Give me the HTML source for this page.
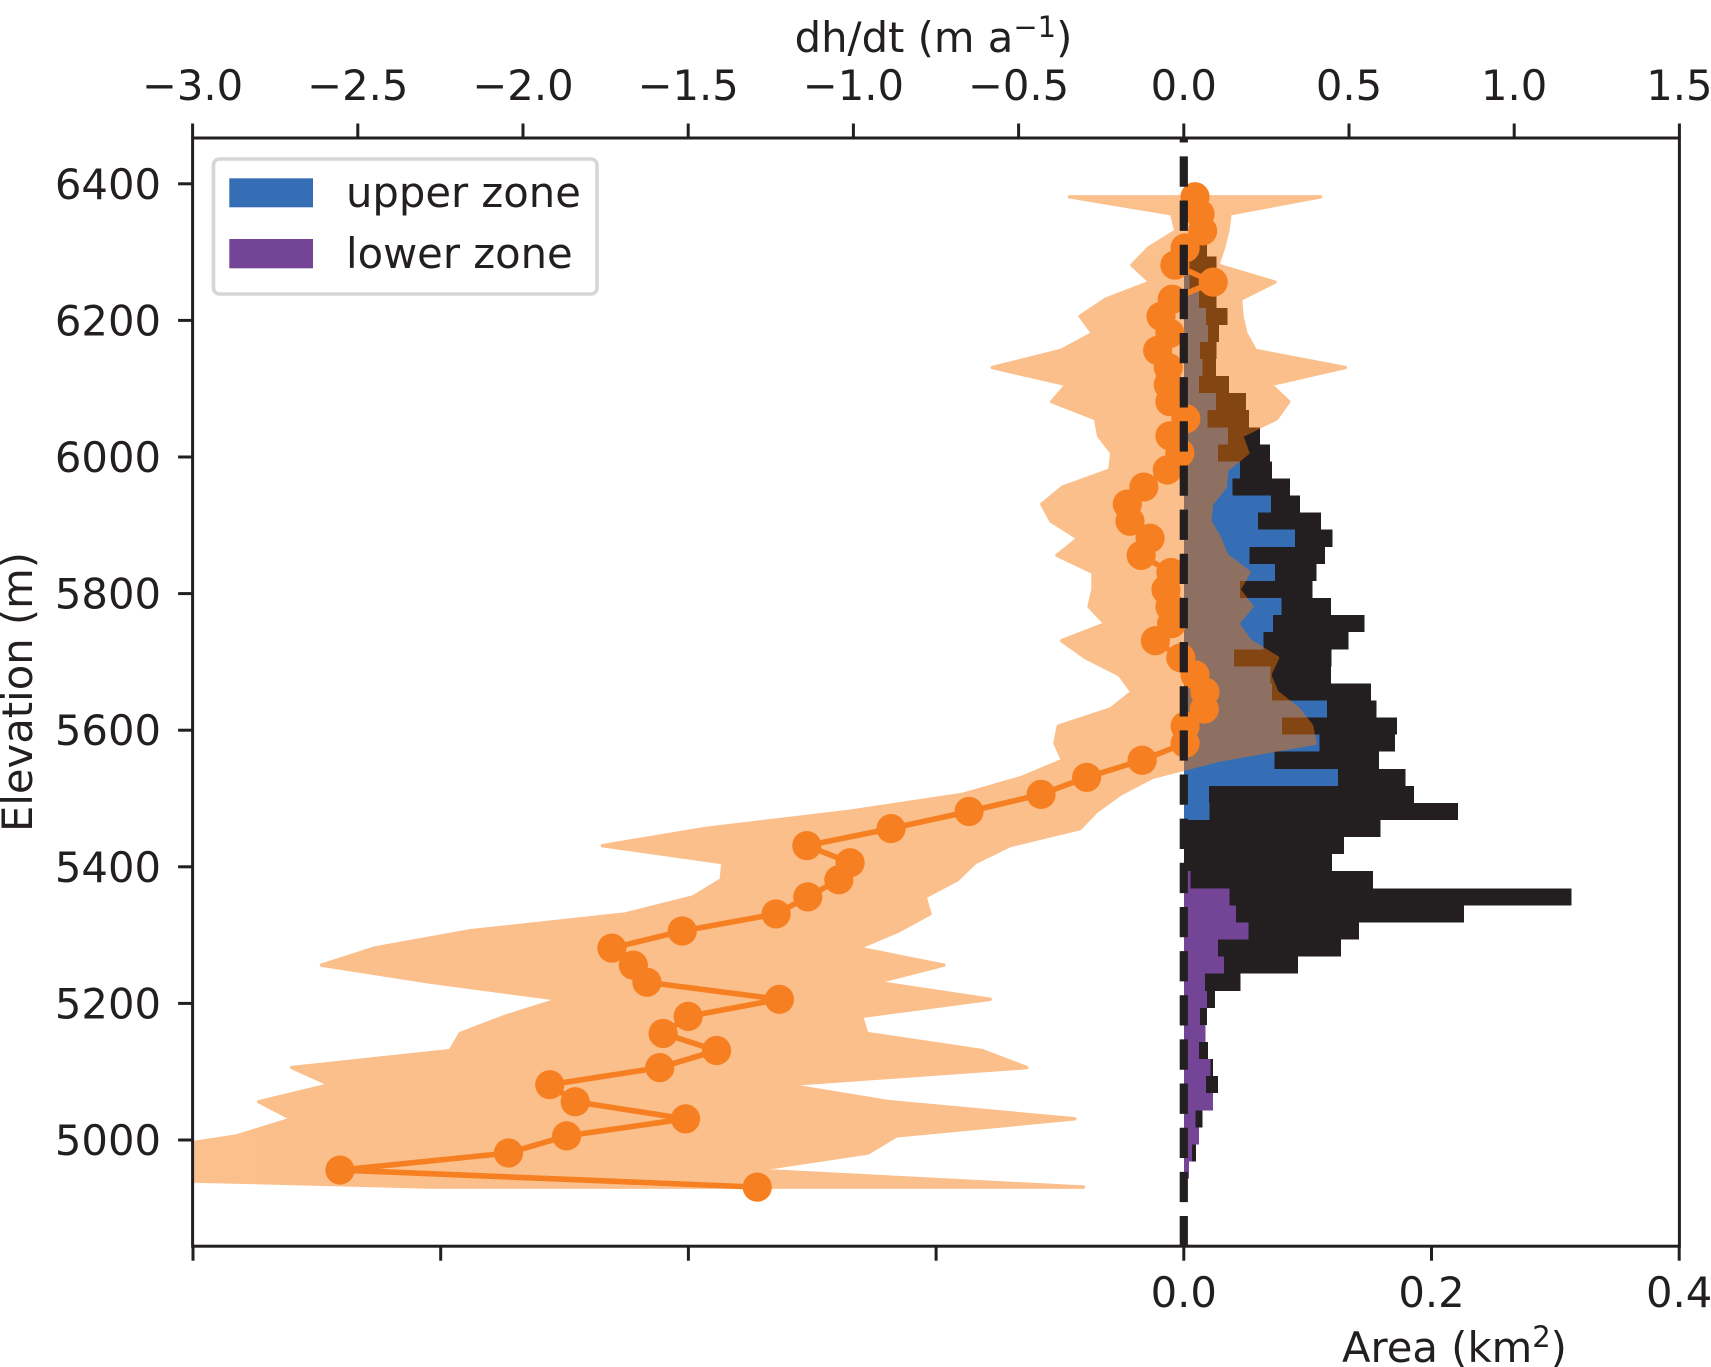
<!DOCTYPE html>
<html lang="en">
<head>
<meta charset="utf-8">
<title>Elevation profile of dh/dt and area</title>
<style>
html,body{margin:0;padding:0;background:#fff;width:1711px;height:1367px;overflow:hidden}
svg{display:block}
text{font-family:"DejaVu Sans","Liberation Sans",sans-serif;fill:#231f20;font-size:41.7px}
</style>
</head>
<body>
<svg id="chart" xmlns="http://www.w3.org/2000/svg" width="1711" height="1367" viewBox="0 0 1711 1367">
  <defs>
    <clipPath id="plot-clip"><rect x="192.6" y="138" width="1486.8" height="1108.2"/></clipPath>
  </defs>
  <rect x="0" y="0" width="1711" height="1367" fill="#ffffff"/>
  <g id="bars" clip-path="url(#plot-clip)"></g>
  <g id="band" clip-path="url(#plot-clip)"></g>
  <g id="series" clip-path="url(#plot-clip)"></g>
  <line id="zero" stroke="#231f20" stroke-width="8.2" stroke-dasharray="30.3 13.85"/>
  <g id="axes"></g>
  <g>
    <rect x="213.5" y="159" width="383.5" height="135" rx="6" ry="6" fill="#ffffff" stroke="#d6d6d6" stroke-width="3.6"/>
    <rect x="229.3" y="178.3" width="83.7" height="29" fill="#366eb5"/>
    <text x="346" y="207">upper zone</text>
    <rect x="229.3" y="239" width="83.7" height="29.3" fill="#744497"/>
    <text x="346" y="268">lower zone</text>
  </g>
  <text x="933.5" y="52" text-anchor="middle">dh/dt (m a<tspan dy="-15" font-size="29">−1</tspan><tspan dy="15">)</tspan></text>
  <text x="1342" y="1362">Area (km<tspan dy="-15" font-size="29">2</tspan><tspan dy="15">)</tspan></text>
  <text transform="translate(32,692) rotate(-90)" text-anchor="middle">Elevation (m)</text>
</svg>
<script>
// Elevation bins (m), low to high
const elevations = [4931,4956,4981,5006,5031,5056,5081,5106,5131,5156,5181,5206,5231,5256,5281,5306,5331,5356,5381,5406,5431,5456,5481,5506,5531,5556,5581,5606,5631,5656,5681,5706,5731,5756,5781,5806,5831,5856,5881,5906,5931,5956,5981,6006,6031,6056,6081,6106,6131,6156,6181,6206,6231,6256,6281,6306,6331,6356,6381];
const binHeight = 25;
// Area per bin (km2)
const areaTotal = [0,.0043,.0097,.0124,.0153,.0237,.0277,.0234,.0194,.0175,.0188,.0253,.0458,.0923,.1268,.1413,.2261,.3131,.1529,.1195,.1292,.1588,.2215,.1857,.1789,.1577,.1704,.1723,.1556,.1513,.1187,.1192,.133,.1459,.119,.1039,.1071,.1139,.12,.1106,.0937,.0859,.0713,.0697,.0616,.0528,.0501,.0366,.0258,.0266,.0285,.0353,.0266,.0124,.0264,.0186,0,0,0];
const areaUpper = [0,0,0,0,0,0,0,0,0,0,0,0,0,0,0,0,0,0,0,0,0,0,.0207,.0202,.1246,.0732,.1096,.0794,.1155,.0713,.07,.0406,.0643,.0719,.0789,.0452,.0738,.053,.0896,.06,.0705,.0393,.0452,.0277,.0358,.0191,.0258,.0124,.0151,.0129,.0196,.0178,.0124,.0048,.004,0,0,0,0];
const areaLower = [0,.0043,.0065,.0124,.0094,.0237,.0178,.0215,.0121,.0175,.0129,.0186,.0172,.0323,.0277,.0522,.042,.0371,.0054,0,0,0,0,0,0,0,0,0,0,0,0,0,0,0,0,0,0,0,0,0,0,0,0,0,0,0,0,0,0,0,0,0,0,0,0,0,0,0,0];
// dh/dt per bin (m/a)
const dhdtMean = [-1.291,-2.554,-2.044,-1.868,-1.508,-1.842,-1.919,-1.586,-1.414,-1.576,-1.5,-1.224,-1.625,-1.666,-1.731,-1.518,-1.234,-1.138,-1.044,-1.01,-1.141,-.886,-.65,-.432,-.294,-.126,.004,.004,.062,.064,.034,-.009,-.086,-.037,-.042,-.054,-.039,-.129,-.102,-.163,-.171,-.121,-.05,-.012,-.042,.006,-.042,-.047,-.047,-.079,-.042,-.069,-.035,.089,-.027,.004,.057,.049,.034];
const dhdtLow = [-2.275,-4.3,-3.2,-2.867,-2.7,-2.8,-2.585,-2.7,-2.22,-2.19,-2.055,-1.89,-2.28,-2.61,-2.45,-2.165,-1.69,-1.485,-1.4,-1.395,-1.76,-1.45,-1.015,-.67,-.49,-.367,-.39,-.38,-.222,-.157,-.195,-.297,-.37,-.238,-.287,-.275,-.275,-.384,-.32,-.402,-.43,-.367,-.224,-.218,-.258,-.267,-.4,-.355,-.58,-.372,-.276,-.314,-.237,-.102,-.157,-.107,-.024,-.037,-.346];
const dhdtHigh = [-.304,-1.3,-.955,-.87,-.33,-.89,-1.205,-.475,-.61,-.96,-.975,-.586,-.93,-.726,-.985,-.864,-.768,-.783,-.685,-.632,-.526,-.314,-.264,-.193,-.095,.105,.397,.387,.347,.281,.26,.284,.2,.163,.206,.167,.198,.13,.109,.079,.084,.125,.13,.194,.175,.281,.318,.263,.489,.217,.188,.176,.172,.276,.103,.12,.133,.14,.414];
// Axis ticks and labels
const dhdtTicks = [-3,-2.5,-2,-1.5,-1,-0.5,0,0.5,1,1.5];
const dhdtTickLabels = ["−3.0","−2.5","−2.0","−1.5","−1.0","−0.5","0.0","0.5","1.0","1.5"];
const areaTicks = [-0.8,-0.6,-0.4,-0.2,0,0.2,0.4];
const areaTickLabels = ["","","","","0.0","0.2","0.4"];
const elevationTicks = [5000,5200,5400,5600,5800,6000,6200,6400];
const elevationTickLabels = ["5000","5200","5400","5600","5800","6000","6200","6400"];

const NS = "http://www.w3.org/2000/svg";
const plot = {left:192.6, right:1679.4, top:138, bottom:1246.2};
function xDhdt(v){ return 1183.8 + v * 330.4; }
function xArea(v){ return 1183.8 + v * 1238.5; }
function yElev(e){ return 1140 - (e - 5000) * 0.683; }
function node(tag, parent){
  const el = document.createElementNS(NS, tag);
  parent.appendChild(el);
  return el;
}
function setAll(el, props){
  Object.keys(props).forEach(function(k){ el.setAttribute(k, props[k]); });
}

const barsG = document.getElementById("bars");
function drawBars(values, color, label){
  values.forEach(function(v, i){
    if (v <= 0) return;
    const el = node("rect", barsG);
    
    
    setAll(el, {
      x: xArea(0),
      y: yElev(elevations[i] + binHeight / 2),
      width: xArea(v) - xArea(0),
      height: yElev(elevations[i] - binHeight / 2) - yElev(elevations[i] + binHeight / 2),
      fill: color,
      "shape-rendering": "crispEdges"
    });
  });
}
drawBars(areaTotal, "#231f20", "area-bar-total");
drawBars(areaUpper, "#366eb5", "area-bar-upper-zone");
drawBars(areaLower, "#744497", "area-bar-lower-zone");

const bandPts = [];
elevations.forEach(function(e, i){ bandPts.push(xDhdt(dhdtLow[i]).toFixed(2) + "," + yElev(e).toFixed(2)); });
for (let i = elevations.length - 1; i >= 0; i--) {
  bandPts.push(xDhdt(dhdtHigh[i]).toFixed(2) + "," + yElev(elevations[i]).toFixed(2));
}
const band = node("polygon", document.getElementById("band"));


setAll(band, {points: bandPts.join(" "), fill: "#f87300", stroke: "#f87300", "stroke-width": 3.4, "stroke-linejoin": "round", opacity: 0.45});

const seriesG = document.getElementById("series");
const meanLine = node("polyline", seriesG);


setAll(meanLine, {
  points: elevations.map(function(e, i){ return xDhdt(dhdtMean[i]).toFixed(2) + "," + yElev(e).toFixed(2); }).join(" "),
  fill: "none", stroke: "#f68021", "stroke-width": 5.6, "stroke-linejoin": "round"
});
elevations.forEach(function(e, i){
  const c = node("circle", seriesG);
  
  
  setAll(c, {cx: xDhdt(dhdtMean[i]), cy: yElev(e), r: 14.6, fill: "#f68021"});
});

const zero = document.getElementById("zero");
setAll(zero, {x1: xDhdt(0), x2: xDhdt(0), y1: plot.bottom + 0.1, y2: plot.top});

const axesG = document.getElementById("axes");
const frame = node("rect", axesG);


setAll(frame, {x: plot.left, y: plot.top, width: plot.right - plot.left, height: plot.bottom - plot.top, fill: "none", stroke: "#231f20", "stroke-width": 3});

function tickLine(x1, y1, x2, y2, label){
  const t = node("line", axesG);
  
  
  setAll(t, {x1: x1, y1: y1, x2: x2, y2: y2, stroke: "#231f20", "stroke-width": 3});
}
function tickText(x, y, str, anchor, label){
  const t = node("text", axesG);
  
  
  setAll(t, {x: x, y: y, "text-anchor": anchor});
  t.textContent = str;
}
dhdtTicks.forEach(function(v, i){
  tickLine(xDhdt(v), plot.top, xDhdt(v), plot.top - 14.5, "top-axis-tick");
  tickText(xDhdt(v), 100, dhdtTickLabels[i], "middle", "top-axis-tick-label");
});
areaTicks.forEach(function(v, i){
  tickLine(xArea(v), plot.bottom, xArea(v), plot.bottom + 14.5, "bottom-axis-tick");
  if (areaTickLabels[i]) tickText(xArea(v), 1307, areaTickLabels[i], "middle", "bottom-axis-tick-label");
});
elevationTicks.forEach(function(v, i){
  tickLine(plot.left, yElev(v), plot.left - 14.5, yElev(v), "y-axis-tick");
  tickText(161, yElev(v) + 15, elevationTickLabels[i], "end", "y-axis-tick-label");
});
</script>
</body>
</html>
